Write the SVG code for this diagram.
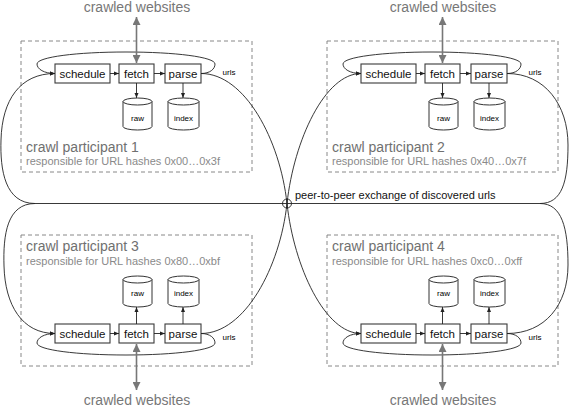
<svg xmlns="http://www.w3.org/2000/svg" width="570" height="413" viewBox="0 0 570 413">
<style>
  text { font-family: "Liberation Sans", Arial, sans-serif; }
  .frame { fill: none; stroke: #888; stroke-width: 1; stroke-dasharray: 4 3; }
  .title { font-size: 14px; fill: #707070; }
  .sub { font-size: 11px; fill: #8a8a8a; }
  .box { fill: #fff; stroke: #3a3a3a; stroke-width: 1.1; }
  .lbl { font-size: 11.5px; fill: #111; text-anchor: middle; }
  .cyl { fill: #fff; stroke: #333; stroke-width: 1; }
  .small { font-size: 8px; fill: #000; text-anchor: middle; }
  .ext { font-size: 14px; fill: #777; text-anchor: middle; }
  .c { fill: none; stroke: #222; stroke-width: 0.9; }
  .ca { fill: none; stroke: #222; stroke-width: 0.9; marker-end: url(#a); }
  .web { fill: none; stroke: #777; stroke-width: 1.6; marker-start: url(#g); marker-end: url(#g); }
  .peer { font-size: 11px; fill: #111; }
</style>
<defs>
  <marker id="a" viewBox="0 0 10 10" refX="10" refY="5" markerWidth="5" markerHeight="5" markerUnits="userSpaceOnUse" orient="auto">
    <path d="M0,1 L10,5 L0,9 z" fill="#222"/>
  </marker>
  <marker id="g" viewBox="0 0 10 10" refX="10" refY="5" markerWidth="9" markerHeight="8" markerUnits="userSpaceOnUse" orient="auto-start-reverse">
    <path d="M0,0 L10,5 L0,10 z" fill="#777"/>
  </marker>
</defs>

<!-- participant 1 -->
<g id="participant1">
  <rect class="frame" x="21" y="41" width="231" height="131"/>
  <text class="title" x="26" y="152">crawl participant 1</text>
  <text class="sub" x="26" y="165">responsible for URL hashes 0x00…0x3f</text>
  <g id="p1-web"><text class="ext" x="137" y="12">crawled websites</text></g>
  <g id="p1-schedule"><rect class="box" x="55" y="64" width="55" height="19"/><text class="lbl" x="82.5" y="77.7">schedule</text></g>
  <g id="p1-fetch"><rect class="box" x="119" y="64" width="35" height="19"/><text class="lbl" x="136.5" y="77.7">fetch</text></g>
  <g id="p1-parse"><rect class="box" x="165" y="64" width="36" height="19"/><text class="lbl" x="183" y="77.7">parse</text></g>
  <g id="p1-raw"><path class="cyl" d="M123,101.5 A14.5,3.5 0 0 1 152,101.5 L152,126.5 A14.5,3.5 0 0 1 123,126.5 Z M123,101.5 A14.5,3.5 0 0 0 152,101.5"/><text class="small" x="137.5" y="121">raw</text></g>
  <g id="p1-index"><path class="cyl" d="M168,101.5 A15.5,3.5 0 0 1 199,101.5 L199,126.5 A15.5,3.5 0 0 1 168,126.5 Z M168,101.5 A15.5,3.5 0 0 0 199,101.5"/><text class="small" x="183.5" y="121">index</text></g>
  <text class="small" x="229" y="75">urls</text>
</g>

<!-- participant 2 -->
<g id="participant2" transform="translate(306,0)">
  <rect class="frame" x="21" y="41" width="231" height="131"/>
  <text class="title" x="26" y="152">crawl participant 2</text>
  <text class="sub" x="26" y="165">responsible for URL hashes 0x40…0x7f</text>
  <g id="p2-web"><text class="ext" x="137" y="12">crawled websites</text></g>
  <g id="p2-schedule"><rect class="box" x="55" y="64" width="55" height="19"/><text class="lbl" x="82.5" y="77.7">schedule</text></g>
  <g id="p2-fetch"><rect class="box" x="119" y="64" width="35" height="19"/><text class="lbl" x="136.5" y="77.7">fetch</text></g>
  <g id="p2-parse"><rect class="box" x="165" y="64" width="36" height="19"/><text class="lbl" x="183" y="77.7">parse</text></g>
  <g id="p2-raw"><path class="cyl" d="M123,101.5 A14.5,3.5 0 0 1 152,101.5 L152,126.5 A14.5,3.5 0 0 1 123,126.5 Z M123,101.5 A14.5,3.5 0 0 0 152,101.5"/><text class="small" x="137.5" y="121">raw</text></g>
  <g id="p2-index"><path class="cyl" d="M168,101.5 A15.5,3.5 0 0 1 199,101.5 L199,126.5 A15.5,3.5 0 0 1 168,126.5 Z M168,101.5 A15.5,3.5 0 0 0 199,101.5"/><text class="small" x="183.5" y="121">index</text></g>
  <text class="small" x="229" y="75">urls</text>
</g>

<!-- participant 3 -->
<g id="participant3">
  <rect class="frame" x="21" y="235" width="231" height="131"/>
  <text class="title" x="26" y="251">crawl participant 3</text>
  <text class="sub" x="26" y="265">responsible for URL hashes 0x80…0xbf</text>
  <g id="p3-web"><text class="ext" x="137" y="405">crawled websites</text></g>
  <g id="p3-schedule"><rect class="box" x="55" y="324" width="55" height="19"/><text class="lbl" x="82.5" y="337.7">schedule</text></g>
  <g id="p3-fetch"><rect class="box" x="119" y="324" width="35" height="19"/><text class="lbl" x="136.5" y="337.7">fetch</text></g>
  <g id="p3-parse"><rect class="box" x="165" y="324" width="36" height="19"/><text class="lbl" x="183" y="337.7">parse</text></g>
  <g id="p3-raw"><path class="cyl" d="M123,279.5 A14.5,3.5 0 0 1 152,279.5 L152,303.5 A14.5,3.5 0 0 1 123,303.5 Z M123,279.5 A14.5,3.5 0 0 0 152,279.5"/><text class="small" x="137.5" y="296">raw</text></g>
  <g id="p3-index"><path class="cyl" d="M168,279.5 A15.5,3.5 0 0 1 199,279.5 L199,303.5 A15.5,3.5 0 0 1 168,303.5 Z M168,279.5 A15.5,3.5 0 0 0 199,279.5"/><text class="small" x="183.5" y="296">index</text></g>
  <text class="small" x="229" y="340">urls</text>
</g>

<!-- participant 4 -->
<g id="participant4" transform="translate(306,0)">
  <rect class="frame" x="21" y="235" width="231" height="131"/>
  <text class="title" x="26" y="251">crawl participant 4</text>
  <text class="sub" x="26" y="265">responsible for URL hashes 0xc0…0xff</text>
  <g id="p4-web"><text class="ext" x="137" y="405">crawled websites</text></g>
  <g id="p4-schedule"><rect class="box" x="55" y="324" width="55" height="19"/><text class="lbl" x="82.5" y="337.7">schedule</text></g>
  <g id="p4-fetch"><rect class="box" x="119" y="324" width="35" height="19"/><text class="lbl" x="136.5" y="337.7">fetch</text></g>
  <g id="p4-parse"><rect class="box" x="165" y="324" width="36" height="19"/><text class="lbl" x="183" y="337.7">parse</text></g>
  <g id="p4-raw"><path class="cyl" d="M123,279.5 A14.5,3.5 0 0 1 152,279.5 L152,303.5 A14.5,3.5 0 0 1 123,303.5 Z M123,279.5 A14.5,3.5 0 0 0 152,279.5"/><text class="small" x="137.5" y="296">raw</text></g>
  <g id="p4-index"><path class="cyl" d="M168,279.5 A15.5,3.5 0 0 1 199,279.5 L199,303.5 A15.5,3.5 0 0 1 168,303.5 Z M168,279.5 A15.5,3.5 0 0 0 199,279.5"/><text class="small" x="183.5" y="296">index</text></g>
  <text class="small" x="229" y="340">urls</text>
</g>

<g id="connectors">
  <g id="c-top-left">
    <path class="ca" d="M110,73.5 H119"/>
    <path class="ca" d="M154,73.5 H165"/>
    <path class="ca" d="M136.5,83 V98"/>
    <path class="ca" d="M183,83 V98"/>
    <path class="ca" d="M201,73.5 C210,73.5 215,69 215,64 C215,57 175,52 126,52 C77,52 37,57 37,64 C37,69 44,73.5 55,73.5"/>
    <path class="web" d="M136.5,17 V63"/>
  </g>
  <g id="c-top-right" transform="translate(306,0)">
    <path class="ca" d="M110,73.5 H119"/>
    <path class="ca" d="M154,73.5 H165"/>
    <path class="ca" d="M136.5,83 V98"/>
    <path class="ca" d="M183,83 V98"/>
    <path class="ca" d="M201,73.5 C210,73.5 215,69 215,64 C215,57 175,52 126,52 C77,52 37,57 37,64 C37,69 44,73.5 55,73.5"/>
    <path class="web" d="M136.5,17 V63"/>
  </g>
  <g id="c-bottom-left">
    <path class="ca" d="M110,333.5 H119"/>
    <path class="ca" d="M154,333.5 H165"/>
    <path class="ca" d="M136.5,324 V307"/>
    <path class="ca" d="M183,324 V307"/>
    <path class="ca" d="M201,333.5 C210,333.5 215,338 215,343 C215,350 175,355 126,355 C77,355 37,350 37,343 C37,338 44,333.5 55,333.5"/>
    <path class="web" d="M136.5,390 V344"/>
  </g>
  <g id="c-bottom-right" transform="translate(306,0)">
    <path class="ca" d="M110,333.5 H119"/>
    <path class="ca" d="M154,333.5 H165"/>
    <path class="ca" d="M136.5,324 V307"/>
    <path class="ca" d="M183,324 V307"/>
    <path class="ca" d="M201,333.5 C210,333.5 215,338 215,343 C215,350 175,355 126,355 C77,355 37,350 37,343 C37,338 44,333.5 55,333.5"/>
    <path class="web" d="M136.5,390 V344"/>
  </g>
  <g id="c-exchange">
    <path class="ca" d="M201,73.5 C245,73.5 280,140 287,203.5 C294,267 325,333.5 361,333.5"/>
    <path class="ca" d="M201,333.5 C245,333.5 280,267 287,203.5 C294,140 325,73.5 361,73.5"/>
    <path class="ca" d="M35,203.5 C5,203.5 0,170 1,140 C2,100 20,73.5 55,73.5"/>
    <path class="ca" d="M35,203.5 C7,203.5 3,235 4,266 C5,305 22,333.5 55,333.5"/>
    <path class="c" d="M507,73.5 C545,73.5 568,105 568,145 C568,182 562,203.5 540,203.5"/>
    <path class="c" d="M540,203.5 C562,203.5 568,228 568,265 C568,305 545,333.5 507,333.5"/>
    <path class="c" d="M35,203.5 H540"/>
    <circle cx="287" cy="203.5" r="4.5" fill="none" stroke="#222" stroke-width="0.9"/>
    <path class="c" d="M287,199 V208"/>
  </g>
  <text class="peer" x="295" y="199">peer-to-peer exchange of discovered urls</text>
</g>
</svg>
